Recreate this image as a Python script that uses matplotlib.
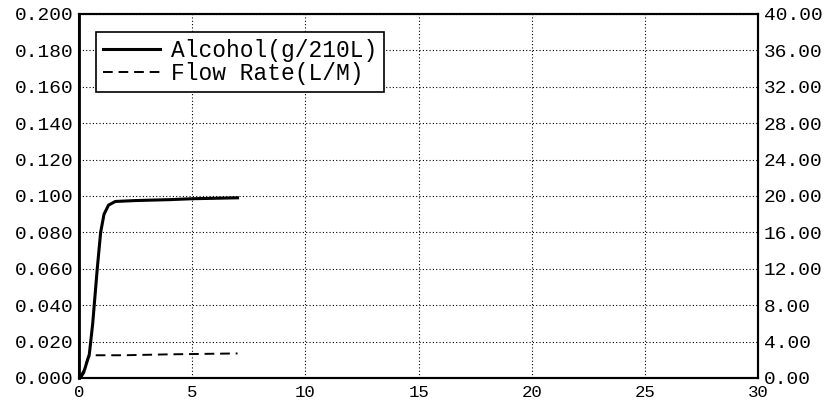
import matplotlib.pyplot as plt
from matplotlib.ticker import FormatStrFormatter

# time in seconds
alcohol_t = [0.0, 0.1, 0.2, 0.3, 0.45, 0.6, 0.7, 0.8, 0.95, 1.1, 1.3, 1.6, 2.5, 4.0, 5.0, 7.0]
alcohol_v = [0.0, 0.001, 0.003, 0.007, 0.013, 0.030, 0.045, 0.060, 0.080, 0.090, 0.095, 0.097,
             0.0975, 0.098, 0.0985, 0.099]

flow_t = [0.0, 0.2, 0.4, 0.5, 2.0, 4.0, 5.5, 7.0]
flow_v = [0.0, 0.8, 2.3, 2.5, 2.5, 2.6, 2.65, 2.7]

x_ticks = [0, 5, 10, 15, 20, 25, 30]
left_ticks = [0.0, 0.02, 0.04, 0.06, 0.08, 0.10, 0.12, 0.14, 0.16, 0.18, 0.20]
right_ticks = [0, 4, 8, 12, 16, 20, 24, 28, 32, 36, 40]

MONO = "Liberation Mono"


def main():
    fig = plt.figure(figsize=(8.33, 4.0), dpi=100)
    ax = fig.add_axes([0.095, 0.055, 0.815, 0.91])
    ax2 = ax.twinx()

    ax.plot(alcohol_t, alcohol_v, color="black", linewidth=2.2, label="Alcohol(g/210L)")
    ax2.plot(flow_t, flow_v, color="black", linewidth=1.4, linestyle=(0, (5, 3)),
             label="Flow Rate(L/M)")

    ax.set_xlim(0, 30)
    ax.set_ylim(0, 0.2)
    ax2.set_ylim(0, 40)
    ax.set_xticks(x_ticks)
    ax.set_yticks(left_ticks)
    ax2.set_yticks(right_ticks)
    ax.yaxis.set_major_formatter(FormatStrFormatter("%.3f"))
    ax2.yaxis.set_major_formatter(FormatStrFormatter("%.2f"))

    ax.grid(True, color="black", linestyle=(0, (1, 2)), linewidth=0.8)

    for a in (ax, ax2):
        a.tick_params(length=0, labelsize=14, pad=4)
        for lab in a.get_xticklabels() + a.get_yticklabels():
            lab.set_fontfamily(MONO)
        for s in a.spines.values():
            s.set_linewidth(1.5)
    ax.spines["left"].set_linewidth(2.0)
    # x labels sit low, just under the right-hand 0.00 label
    ax.tick_params(axis="x", pad=5, labelsize=12.5)

    h1, l1 = ax.get_legend_handles_labels()
    h2, l2 = ax2.get_legend_handles_labels()
    leg = ax2.legend(h1 + h2, l1 + l2, loc="upper left", bbox_to_anchor=(0.025, 0.95),
                     prop={"family": MONO, "size": 16.5}, frameon=True, fancybox=False,
                     edgecolor="black", framealpha=1, borderaxespad=0, handlelength=2.5,
                     handletextpad=0.45, labelspacing=0.0, borderpad=0.3)
    leg.get_frame().set_linewidth(1.2)

    fig.savefig("out.png", dpi=100)


if __name__ == "__main__":
    main()
